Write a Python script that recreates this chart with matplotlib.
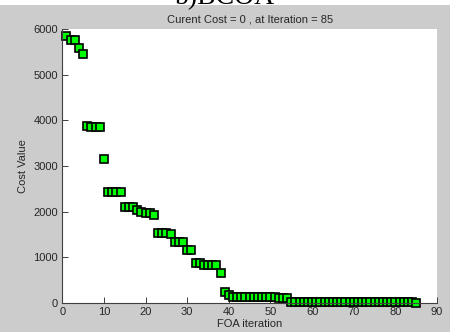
import matplotlib
matplotlib.use("Agg")
import matplotlib.pyplot as plt
from matplotlib.patches import Rectangle

# Cost per FOA iteration
iterations = list(range(1, 86))
cost_values = [
    5850, 5760, 5750, 5590, 5450,
    3880, 3860, 3850, 3850, 3150,
    2440, 2440, 2440, 2440, 2100,
    2100, 2100, 2030, 2000, 1970,
    1960, 1930, 1540, 1540, 1540,
    1520, 1340, 1340, 1340, 1170,
    1170, 880, 870, 840, 840,
    840, 840, 650, 250, 170,
    125, 125, 125, 125, 125,
    125, 125, 125, 125, 125,
    125, 100, 100, 100, 20,
    20, 20, 20, 20, 20,
    20, 20, 20, 20, 20,
    20, 20, 20, 20, 20,
    20, 20, 20, 20, 20,
    20, 20, 20, 20, 20,
    20, 20, 20, 20, 0,
]
x_ticks = [0, 10, 20, 30, 40, 50, 60, 70, 80, 90]
y_ticks = [0, 1000, 2000, 3000, 4000, 5000, 6000]

plt.rcParams['font.family'] = ['Liberation Sans', 'DejaVu Sans']

fig = plt.figure(figsize=(4.5, 3.32), dpi=100, facecolor='#cccccc')

# white strip at the top with the clipped panel caption
fig.patches.append(Rectangle((0, 1 - 5 / 332), 1, 5 / 332, transform=fig.transFigure,
                             facecolor='white', edgecolor='none', zorder=0))
fig.text(0.5, 1 - 4 / 332, "b)BCOA", family='Liberation Serif', fontsize=20,
         ha='center', va='baseline', color='black')

ax = fig.add_axes([62.3 / 450, 29 / 332, 374.7 / 450, 274 / 332])
ax.set_facecolor('white')

ax.plot(iterations, cost_values, 's', markersize=6.3, markerfacecolor='#00ff00',
        markeredgecolor='black', markeredgewidth=1.2, linestyle='none', clip_on=False)

ax.set_xlim(0, 90)
ax.set_ylim(0, 6000)
ax.set_xticks(x_ticks)
ax.set_yticks(y_ticks)

for side in ['top', 'right']:
    ax.spines[side].set_visible(False)
for side in ['left', 'bottom']:
    ax.spines[side].set_color('#404040')
    ax.spines[side].set_linewidth(0.8)

ax.tick_params(direction='in', length=4, width=0.7, colors='#404040',
               labelsize=8, labelcolor='#262626', pad=3)

ax.set_title("Curent Cost = 0 , at Iteration = 85", fontsize=8, color='#262626', pad=5)
ax.set_xlabel("FOA iteration", fontsize=8, color='#262626', labelpad=1)
ax.set_ylabel("Cost Value", fontsize=8, color='#262626', labelpad=4)

fig.savefig("out.png", dpi=100, facecolor=fig.get_facecolor())
